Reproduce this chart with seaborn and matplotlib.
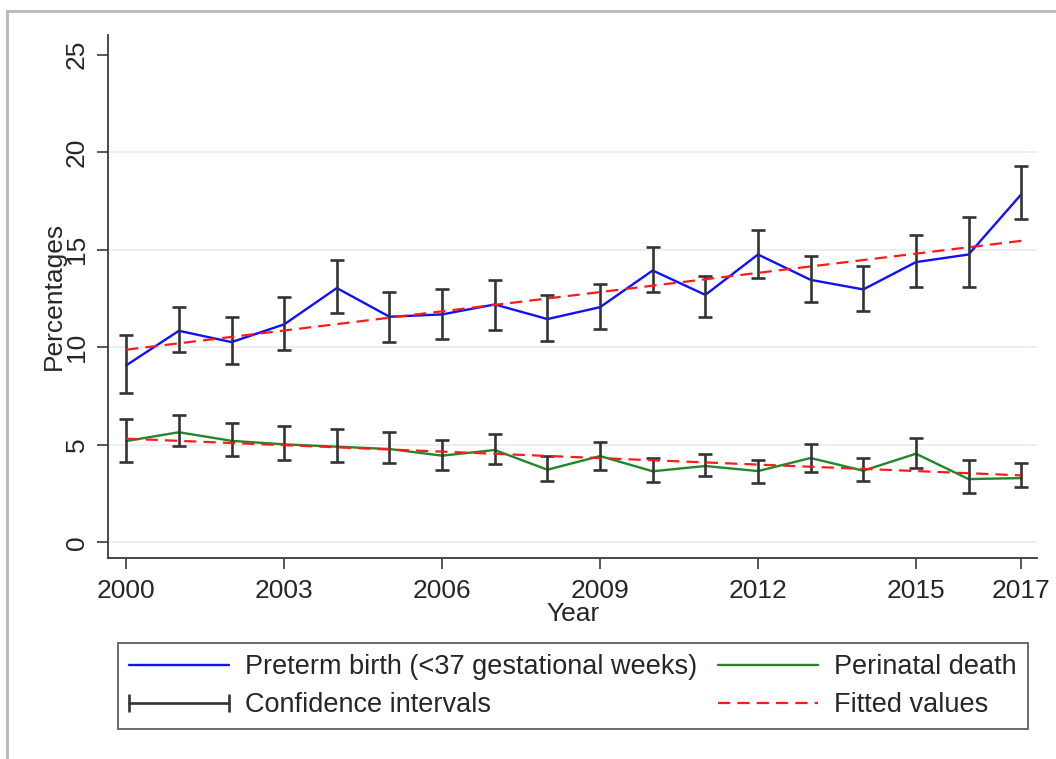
import numpy as np
import pandas as pd
import matplotlib
matplotlib.use("Agg")
import matplotlib.pyplot as plt
from matplotlib.lines import Line2D
from matplotlib.legend_handler import HandlerLine2D
import seaborn as sns

# ---- data -------------------------------------------------------------
years = list(range(2000, 2018))

preterm = [9.07, 10.84, 10.26, 11.17, 13.03, 11.56, 11.68, 12.19, 11.44,
           12.05, 13.93, 12.68, 14.75, 13.45, 12.96, 14.36, 14.75, 17.83]
preterm_lo = [7.63, 9.73, 9.13, 9.84, 11.75, 10.26, 10.41, 10.86, 10.33,
              10.93, 12.84, 11.54, 13.56, 12.33, 11.85, 13.06, 13.06, 16.56]
preterm_hi = [10.64, 12.05, 11.54, 12.57, 14.46, 12.84, 12.96, 13.45, 12.67,
              13.23, 15.14, 13.64, 15.98, 14.65, 14.15, 15.74, 16.66, 19.28]

perinatal = [5.19, 5.64, 5.20, 5.02, 4.90, 4.78, 4.44, 4.73, 3.72,
             4.42, 3.64, 3.91, 3.65, 4.32, 3.67, 4.54, 3.24, 3.29]
perinatal_lo = [4.13, 4.93, 4.42, 4.22, 4.13, 4.05, 3.70, 4.03, 3.13,
                3.70, 3.10, 3.41, 3.02, 3.62, 3.13, 3.82, 2.51, 2.83]
perinatal_hi = [6.33, 6.52, 6.13, 5.94, 5.80, 5.64, 5.24, 5.53, 4.41,
                5.12, 4.33, 4.54, 4.22, 5.02, 4.32, 5.33, 4.22, 4.05]

# linear fitted values at the ends of the period
fit_years = [2000, 2017]
fit_preterm = [9.87, 15.45]
fit_perinatal = [5.31, 3.43]

x_ticks = [2000, 2003, 2006, 2009, 2012, 2015, 2017]
y_ticks = [0, 5, 10, 15, 20, 25]

label_preterm = "Preterm birth (<37 gestational weeks)"
label_perinatal = "Perinatal death"
label_ci = "Confidence intervals"
label_fit = "Fitted values"

# ---- styling ----------------------------------------------------------
sns.set_style("ticks")
plt.rcParams["font.family"] = ["Liberation Sans", "DejaVu Sans"]

BLUE = "#1010FF"
GREEN = "#20882A"
RED = "#FF1A1A"
CI_COLOR = "#333333"
AXIS_COLOR = "#3A3A3A"
FS = 19
LEG_FS = 19.5
DASH = (0, (5.5, 3.2))

df = pd.DataFrame({
    "year": years * 2,
    "value": preterm + perinatal,
    "series": [label_preterm] * len(years) + [label_perinatal] * len(years),
})
fit_df = pd.DataFrame({
    "year": fit_years * 2,
    "value": fit_preterm + fit_perinatal,
    "series": ["p"] * 2 + ["d"] * 2,
})

fig = plt.figure(figsize=(10.56, 7.59), dpi=100)
ax = fig.add_axes([0.1026, 0.2652, 0.8794, 0.6887])

# series lines
sns.lineplot(data=df, x="year", y="value", hue="series",
             palette={label_preterm: BLUE, label_perinatal: GREEN},
             linewidth=1.7, legend=False, errorbar=None, ax=ax, zorder=3)

# confidence intervals (capped ranges)
for mid, lo, hi in [(preterm, preterm_lo, preterm_hi),
                    (perinatal, perinatal_lo, perinatal_hi)]:
    mid = np.asarray(mid)
    yerr = np.vstack([mid - np.asarray(lo), np.asarray(hi) - mid])
    ax.errorbar(years, mid, yerr=yerr, fmt="none", ecolor=CI_COLOR,
                elinewidth=1.9, capsize=4.8, capthick=1.9, zorder=4)

# fitted lines
sns.lineplot(data=fit_df, x="year", y="value", units="series", estimator=None,
             color=RED, linewidth=1.6, dashes=False, legend=False, ax=ax, zorder=5)
for ln in ax.get_lines()[-2:]:
    ln.set_linestyle(DASH)

# axes
ax.set_xlim(1999.66, 2017.3)
ax.set_ylim(-0.79, 26.0)
ax.set_xticks(x_ticks)
ax.set_yticks(y_ticks)
ax.set_xticklabels([str(t) for t in x_ticks], fontsize=FS)
ax.set_yticklabels([str(t) for t in y_ticks], fontsize=FS, rotation=90, va="center")
ax.tick_params(axis="both", length=8, width=1.2, color=AXIS_COLOR)
ax.tick_params(axis="x", pad=7.5)
ax.tick_params(axis="y", pad=6)
ax.set_xlabel("Year", fontsize=FS, labelpad=-1)
ax.set_ylabel("Percentages", fontsize=FS, labelpad=-1)

for side in ["top", "right"]:
    ax.spines[side].set_visible(False)
for side in ["left", "bottom"]:
    ax.spines[side].set_color(AXIS_COLOR)
    ax.spines[side].set_linewidth(1.3)

ax.yaxis.grid(True, color="#E6EEF0", linewidth=1.2, zorder=0)
ax.xaxis.grid(False)
ax.get_ygridlines()[-1].set_visible(False)
ax.set_axisbelow(True)

# legend
h_pre = Line2D([], [], color=BLUE, lw=1.7)
h_per = Line2D([], [], color=GREEN, lw=1.7)
h_ci = Line2D([], [], color=CI_COLOR, lw=1.9, marker="|", markersize=13,
              markeredgewidth=1.9)
h_fit = Line2D([], [], color=RED, lw=1.6, linestyle=DASH)
leg = fig.legend([h_pre, h_ci, h_per, h_fit],
                 [label_preterm, label_ci, label_perinatal, label_fit],
                 loc="lower left", bbox_to_anchor=(0.1117, 0.0395, 0.8617, 0.1133),
                 mode="expand", ncol=2, fontsize=LEG_FS, frameon=True, fancybox=False,
                 edgecolor="#444444", handlelength=3.7, handletextpad=0.6,
                 labelspacing=0.45, borderpad=0.4, borderaxespad=0.0,
                 handler_map={h_ci: HandlerLine2D(numpoints=2, marker_pad=0.0)})
leg.get_frame().set_linewidth(1.4)

# outer frame edge
fig.add_artist(Line2D([7 / 1056, 1.0], [1 - 10.5 / 759] * 2,
                      transform=fig.transFigure, color="#BDBDBD", lw=2.2))
fig.add_artist(Line2D([7 / 1056] * 2, [0.0, 1 - 10.5 / 759],
                      transform=fig.transFigure, color="#BDBDBD", lw=2.2))

fig.savefig("out.png", dpi=100, facecolor="white")
